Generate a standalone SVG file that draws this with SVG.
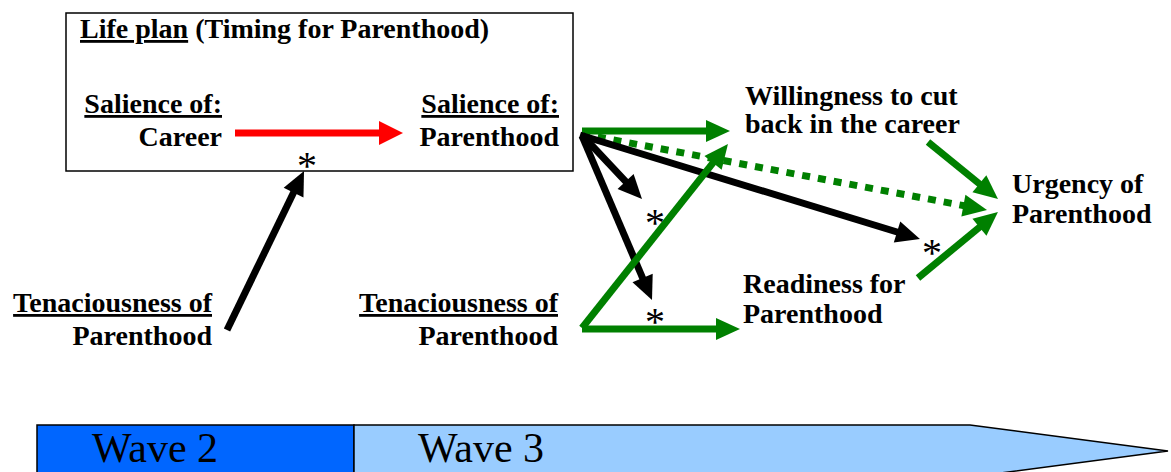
<svg xmlns="http://www.w3.org/2000/svg" width="1171" height="472" viewBox="0 0 1171 472">
<style>
.t{font-family:"Liberation Serif","Times New Roman",serif;font-weight:bold;font-size:28px;fill:#000}
.u{text-decoration:underline}
.e{text-anchor:end}
.ast{font-family:"Liberation Serif","Times New Roman",serif;font-size:40px;fill:#000;text-anchor:middle}
.w{font-family:"Liberation Serif","Times New Roman",serif;font-size:42px;fill:#000}
.bk{stroke:#000;stroke-width:7;fill:none}
.gr{stroke:#008000;stroke-width:7;fill:none}
.rd{stroke:#ff0000;stroke-width:7;fill:none}
.dot{stroke-dasharray:8 8}
</style>
<defs>
<marker id="hb" markerUnits="userSpaceOnUse" markerWidth="24" markerHeight="22" refX="12" refY="11" orient="auto" overflow="visible"><path d="M0,0 L24,11 L0,22 z" fill="#000"/></marker>
<marker id="hg" markerUnits="userSpaceOnUse" markerWidth="24" markerHeight="22" refX="12" refY="11" orient="auto" overflow="visible"><path d="M0,0 L24,11 L0,22 z" fill="#008000"/></marker>
<marker id="hr" markerUnits="userSpaceOnUse" markerWidth="24" markerHeight="24" refX="12" refY="12" orient="auto" overflow="visible"><path d="M0,0 L24,12 L0,24 z" fill="#ff0000"/></marker>
</defs>
<rect width="1171" height="472" fill="#fff"/>

<g id="timeline">
<rect x="37" y="425" width="317" height="52" fill="#0066ff" stroke="#000" stroke-width="1.5"/>
<path d="M354,425 L970,425 L1168,451 L970,477 L354,477 Z" fill="#99ccff" stroke="#000" stroke-width="1.5"/>
<text class="w" x="92" y="462">Wave 2</text>
<text class="w" x="418" y="462">Wave 3</text>
</g>

<g id="life-plan">
<rect x="66" y="13" width="507" height="158" fill="none" stroke="#000" stroke-width="1.5"/>
<text class="t" x="80" y="38"><tspan class="u">Life plan</tspan> (Timing for Parenthood)</text>
</g>
<g id="salience-career">
<text class="t e u" x="222" y="113">Salience of:</text>
<text class="t e" x="222" y="146">Career</text>
</g>
<g id="salience-parenthood">
<text class="t e u" x="559" y="113">Salience of:</text>
<text class="t e" x="559" y="146">Parenthood</text>
</g>
<g id="tenacious-w2">
<text class="t e u" x="212" y="312">Tenaciousness of</text>
<text class="t e" x="212" y="345">Parenthood</text>
</g>
<g id="tenacious-w3">
<text class="t e u" x="558" y="312">Tenaciousness of</text>
<text class="t e" x="558" y="345">Parenthood</text>
</g>
<g id="willingness">
<text class="t" x="745" y="105">Willingness to cut</text>
<text class="t" x="745" y="133">back in the career</text>
</g>
<g id="readiness">
<text class="t" x="743" y="293">Readiness for</text>
<text class="t" x="743" y="323">Parenthood</text>
</g>
<g id="urgency">
<text class="t" x="1012" y="193">Urgency of</text>
<text class="t" x="1012" y="223">Parenthood</text>
</g>

<g id="connectors">
<line class="rd" x1="235" y1="133" x2="391" y2="133" marker-end="url(#hr)"/>
<line class="bk" x1="227" y1="330" x2="298.8" y2="181.8" marker-end="url(#hb)"/>
<line class="gr" x1="582" y1="131" x2="718" y2="131" marker-end="url(#hg)"/>
<line class="gr dot" x1="582" y1="134" x2="975.2" y2="207.8" marker-end="url(#hg)"/>
<line class="bk" x1="580" y1="135" x2="908.5" y2="235.5" marker-end="url(#hb)"/>
<line class="bk" x1="582" y1="135" x2="633.8" y2="190.2" marker-end="url(#hb)"/>
<line class="bk" x1="582" y1="136" x2="647.3" y2="289" marker-end="url(#hb)"/>
<line class="gr" x1="582" y1="328" x2="720.5" y2="153.4" marker-end="url(#hg)"/>
<line class="gr" x1="582" y1="329" x2="728" y2="329" marker-end="url(#hg)"/>
<line class="gr" x1="928" y1="142" x2="988.7" y2="191.4" marker-end="url(#hg)"/>
<line class="gr" x1="918" y1="278" x2="988.7" y2="219.6" marker-end="url(#hg)"/>
</g>

<g id="significance">
<text class="ast" x="307" y="179">*</text>
<text class="ast" x="655" y="236">*</text>
<text class="ast" x="655" y="335">*</text>
<text class="ast" x="932" y="266">*</text>
</g>
</svg>
